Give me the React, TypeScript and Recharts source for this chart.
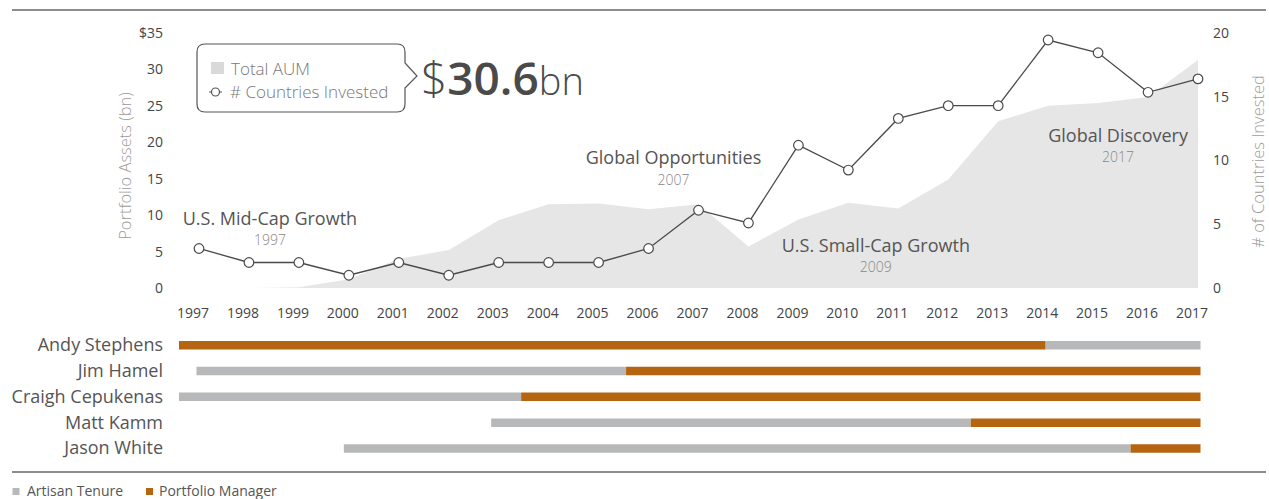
import React from 'react'
import {
  ComposedChart,
  Area,
  Line,
  XAxis,
  YAxis,
  ReferenceDot,
  BarChart,
  Bar,
} from 'recharts'

// years on the timeline
const years = [
  1997, 1998, 1999, 2000, 2001, 2002, 2003, 2004, 2005, 2006, 2007, 2008, 2009,
  2010, 2011, 2012, 2013, 2014, 2015, 2016, 2017,
]
// total AUM ($bn, left axis)
const totalAum = [
  0, 0, 0.1, 1.2, 4.0, 5.2, 9.3, 11.5, 11.6, 10.8, 11.5, 5.7, 9.4, 11.7, 10.9,
  14.9, 22.9, 25.0, 25.4, 26.2, 31.3,
]
// number of countries invested (right axis)
const countries = [
  3.1, 2, 2, 1, 2, 1, 2, 2, 2, 3.1, 6.1, 5.1, 11.2, 9.25, 13.3, 14.3, 14.3,
  19.45, 18.45, 15.35, 16.4,
]
const leftTicks = [0, 5, 10, 15, 20, 25, 30, 35]
const rightTicks = [0, 5, 10, 15, 20]

// fund launches
const fundNames = [
  'U.S. Mid-Cap Growth',
  'Global Opportunities',
  'U.S. Small-Cap Growth',
  'Global Discovery',
]
const fundYears = ['1997', '2007', '2009', '2017']

// portfolio managers (decimal years)
const managers = [
  'Andy Stephens',
  'Jim Hamel',
  'Craigh Cepukenas',
  'Matt Kamm',
  'Jason White',
]
const tenureStart = [1996.6, 1996.95, 1996.6, 2002.85, 1999.9]
const pmStart = [1996.6, 2005.55, 2003.45, 2012.45, 2015.65]
const pmEnd = [2013.95, 2017.05, 2017.05, 2017.05, 2017.05]
const asOf = 2017.05

const trendRows = years.map((year, i) => ({
  year,
  aum: totalAum[i],
  countries: countries[i],
}))

const ganttRows = managers.map((name, i) => ({
  name,
  lead: tenureStart[i],
  before: pmStart[i] - tenureStart[i],
  pm: pmEnd[i] - pmStart[i],
  after: asOf - pmEnd[i],
}))

// where the launch notes sit (x in years, y on the AUM axis)
const noteAnchors = [
  { x: 1998.42, y: 9.6 },
  { x: 2006.5, y: 17.85 },
  { x: 2010.55, y: 5.85 },
  { x: 2015.4, y: 21.0 },
]

const FONT = '"Open Sans", sans-serif'
const GRAY = '#b7b8b9'
const ORANGE = '#b5650f'

const App = () => {
  return (
    <div
      style={{
        position: 'absolute',
        left: 0,
        top: 0,
        width: 1269,
        height: 499,
        overflow: 'hidden',
        background: '#fff',
        fontFamily: FONT,
      }}
    >
      <div style={{ position: 'absolute', left: 0, top: 0 }}>
        <ComposedChart
          width={1269}
          height={330}
          data={trendRows}
          margin={{ top: 33, right: 0, bottom: 0, left: 0 }}
        >
          <XAxis
            dataKey="year"
            type="number"
            domain={[1997, 2017]}
            ticks={years}
            interval={0}
            axisLine={false}
            tickLine={false}
            tickMargin={14}
            height={42}
            tick={{ fontSize: 14, fill: '#444', fontFamily: FONT, dx: -6 }}
          />
          <YAxis
            yAxisId="left"
            orientation="left"
            width={199}
            domain={[0, 35]}
            ticks={leftTicks}
            interval={0}
            axisLine={false}
            tickLine={false}
            tickMargin={30}
            tickFormatter={(v) => (v === 35 ? '$35' : String(v))}
            tick={{ fontSize: 14, fill: '#444', fontFamily: FONT }}
          />
          <YAxis
            yAxisId="right"
            orientation="right"
            width={71}
            domain={[0, 20]}
            ticks={rightTicks}
            interval={0}
            axisLine={false}
            tickLine={false}
            tickMargin={9}
            tick={{ fontSize: 14, fill: '#444', fontFamily: FONT }}
          />
          <Area
            yAxisId="left"
            dataKey="aum"
            type="linear"
            stroke="none"
            fill="#e6e6e6"
            fillOpacity={1}
            isAnimationActive={false}
          />
          <Line
            yAxisId="right"
            dataKey="countries"
            type="linear"
            stroke="#4a4a4a"
            strokeWidth={1.3}
            dot={{ r: 4.8, fill: '#fff', stroke: '#4a4a4a', strokeWidth: 1.2 }}
            isAnimationActive={false}
          />
          {fundNames.map((name, i) => (
            <ReferenceDot
              key={name}
              yAxisId="left"
              x={noteAnchors[i].x}
              y={noteAnchors[i].y}
              r={0}
              shape={(p: any) => (
                <g>
                  <text
                    x={p.cx}
                    y={p.cy + 6.5}
                    textAnchor="middle"
                    fontSize={18}
                    fill="#555"
                    fontFamily={FONT}
                  >
                    {name}
                  </text>
                  <text
                    x={p.cx}
                    y={p.cy + 27}
                    textAnchor="middle"
                    fontSize={14}
                    fontWeight={300}
                    fill="#888"
                    fontFamily={FONT}
                  >
                    {fundYears[i]}
                  </text>
                </g>
              )}
            />
          ))}
        </ComposedChart>
      </div>

      <div style={{ position: 'absolute', left: 0, top: 332 }}>
        <BarChart
          width={1269}
          height={129}
          data={ganttRows}
          layout="vertical"
          barSize={8.5}
          margin={{ top: 0, right: 66, bottom: 0, left: 0 }}
        >
          <XAxis
            type="number"
            hide
            domain={[1996.6, 2017.1]}
            allowDataOverflow
          />
          <YAxis
            type="category"
            dataKey="name"
            width={179}
            interval={0}
            axisLine={false}
            tickLine={false}
            tickMargin={10}
            tick={{ fontSize: 18, fill: '#555', fontFamily: FONT }}
          />
          <Bar dataKey="lead" stackId="g" fill="transparent" isAnimationActive={false} />
          <Bar dataKey="before" stackId="g" fill={GRAY} isAnimationActive={false} />
          <Bar dataKey="pm" stackId="g" fill={ORANGE} isAnimationActive={false} />
          <Bar dataKey="after" stackId="g" fill={GRAY} isAnimationActive={false} />
        </BarChart>
      </div>

      <svg
        width={1269}
        height={499}
        style={{ position: 'absolute', left: 0, top: 0, pointerEvents: 'none' }}
        fontFamily={FONT}
      >
        <line x1={12} x2={1266} y1={10} y2={10} stroke="#8c8c8c" strokeWidth={1.8} />
        <line x1={12} x2={1266} y1={472} y2={472} stroke="#8c8c8c" strokeWidth={1.8} />

        {/* axis titles */}
        <text
          transform="translate(124,166) rotate(-90)"
          textAnchor="middle"
          dominantBaseline="central"
          fontSize={16.5}
          fontWeight={300}
          fill="#9a9a9a"
        >
          Portfolio Assets (bn)
        </text>
        <text
          transform="translate(1257,161.5) rotate(-90)"
          textAnchor="middle"
          dominantBaseline="central"
          fontSize={16.5}
          fontWeight={300}
          fill="#9a9a9a"
        >
          # of Countries Invested
        </text>

        {/* legend callout */}
        <path
          d="M205 44 H397 Q405 44 405 52 V63 L417 76 L405 88 V104 Q405 112 397 112 H205 Q197 112 197 104 V52 Q197 44 205 44 Z"
          fill="#fff"
          stroke="#555"
          strokeWidth={1.2}
        />
        <rect x={211} y={62} width={13} height={12} fill="#d9d9d9" />
        <text x={231} y={74.5} fontSize={17} fontWeight={300} fill="#777">
          Total AUM
        </text>
        <line x1={209} x2={222} y1={92} y2={92} stroke="#555" strokeWidth={1} />
        <circle cx={215.5} cy={92} r={4} fill="#fff" stroke="#555" strokeWidth={1.2} />
        <text x={230} y={98} fontSize={17} fontWeight={300} fill="#777">
          # Countries Invested
        </text>

        <text x={421} y={95} fill="#4a4a4a">
          <tspan fontSize={46} fontWeight={300}>$</tspan>
          <tspan fontSize={46} fontWeight={600}>30.6</tspan>
          <tspan fontSize={38} fontWeight={300}>bn</tspan>
        </text>

        {/* bottom legend */}
        <rect x={12.5} y={488} width={7} height={7} fill={GRAY} />
        <text x={27} y={495.5} fontSize={14} fill="#555">
          Artisan Tenure
        </text>
        <rect x={146} y={488} width={7} height={7} fill={ORANGE} />
        <text x={159} y={495.5} fontSize={14} fill="#555">
          Portfolio Manager
        </text>
      </svg>
    </div>
  )
}

export default App
